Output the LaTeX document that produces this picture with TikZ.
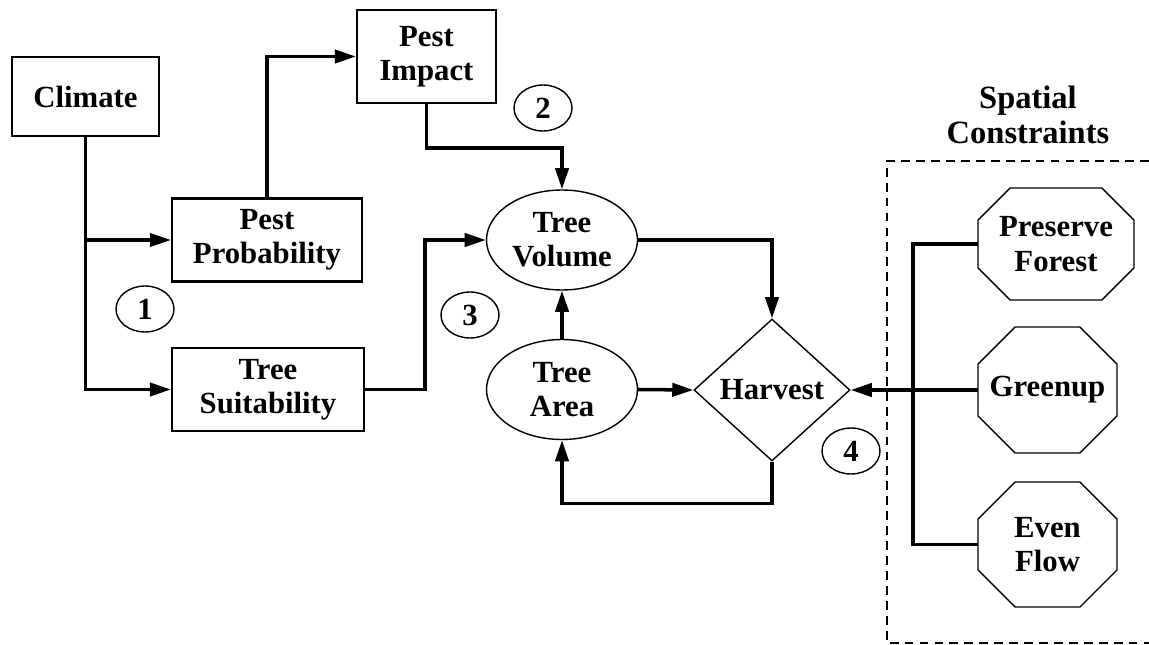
\documentclass[tikz,border=0pt]{standalone}
\usepackage{fontspec}
\setmainfont{Liberation Serif}
\usetikzlibrary{shapes.geometric,arrows.meta}

\begin{document}
\begin{tikzpicture}[x=0.02cm, y=-0.02cm,
    every node/.style={font=\fontsize{17.5}{19.5}\selectfont\bfseries, align=center},
    box/.style={draw, line width=1.2pt, rectangle, inner sep=1pt},
    oval/.style={draw, line width=0.8pt, ellipse, inner sep=0pt, minimum width=3.02cm, minimum height=2cm},
    tag/.style={draw, line width=0.8pt, ellipse, inner sep=0pt, minimum width=1.16cm, minimum height=0.92cm},
    octa/.style={rectangle, inner sep=0pt, outer sep=0pt},
    conn/.style={line width=2pt, -{Triangle[length=12pt, width=7.5pt]}},
    link/.style={line width=2pt}]
  \useasboundingbox (0,0) rectangle (1149,645);

  % model boxes
  \node[box, minimum width=2.94cm, minimum height=1.58cm] (climate) at (85.5,96.5) {Climate};
  \node[box, minimum width=2.78cm, minimum height=1.86cm] (impact) at (426.5,56.5) {Pest\\Impact};
  \node[box, minimum width=3.8cm, minimum height=1.66cm] (prob) at (267,240) {Pest\\Probability};
  \node[box, minimum width=3.84cm, minimum height=1.66cm] (suit) at (268,389.5) {Tree\\Suitability};
  \node[oval] (vol) at (562,240) {Tree\\Volume};
  \node[oval] (area) at (562,389.5) {Tree\\Area};
  \node[draw, line width=0.8pt, diamond, aspect=1.1, inner sep=1pt,
        minimum width=3.12cm, minimum height=2.84cm] (harv) at (772,390) {Harvest};

  % numbered tags
  \node[tag] (t1) at (145,309) {1};
  \node[tag] (t2) at (543,108) {2};
  \node[tag] (t3) at (470,315) {3};
  \node[tag] (t4) at (851,451) {4};

  % spatial constraints
  \node[font=\fontsize{18.5}{20}\selectfont\bfseries] (spat) at (1028,115) {Spatial\\Constraints};
  \draw[line width=1.4pt, dash pattern=on 5pt off 3.5pt]
    (1149,161) -- (887,161) -- (887,643) -- (1149,643);
  \node[octa, minimum width=3.12cm, minimum height=2.24cm] (pres) at (1056,244) {Preserve\\Forest};
  \node[octa, minimum width=2.78cm, minimum height=2.52cm] (green) at (1047.5,390) {Greenup};
  \node[octa, minimum width=2.78cm, minimum height=2.5cm] (even) at (1047.5,544.5) {Even\\Flow};
  \foreach \o/\c in {pres/32, green/37, even/37}{
    \draw[line width=0.8pt]
      ([xshift=\c*0.02cm]\o.north west) -- ([xshift=-\c*0.02cm]\o.north east)
      -- ([yshift=-\c*0.02cm]\o.north east) -- ([yshift=\c*0.02cm]\o.south east)
      -- ([xshift=-\c*0.02cm]\o.south east) -- ([xshift=\c*0.02cm]\o.south west)
      -- ([yshift=\c*0.02cm]\o.south west) -- ([yshift=-\c*0.02cm]\o.north west) -- cycle; }

  % connectors
  \draw[conn] (climate.south) |- (suit.west);
  \draw[conn] (climate.south |- prob.west) -- (prob.west);
  \draw[conn] (prob.north) |- (impact.west);
  \draw[conn] (impact.south) -- ++(0,44) -| (vol.north);
  \draw[conn] (suit.east) -- ++(60,0) |- (vol.west);
  \draw[conn] (vol.east) -| (harv.north);
  \draw[conn] (area.north) -- (vol.south);
  \draw[conn] (area.east) -- (harv.west);
  \draw[conn] (harv.south) -- ++(0,42) -| (area.south);
  \draw[conn] (green.west) -- (harv.east);
  \draw[link] (pres.west) -- ++(-65,0) |- (even.west);
\end{tikzpicture}
\end{document}
